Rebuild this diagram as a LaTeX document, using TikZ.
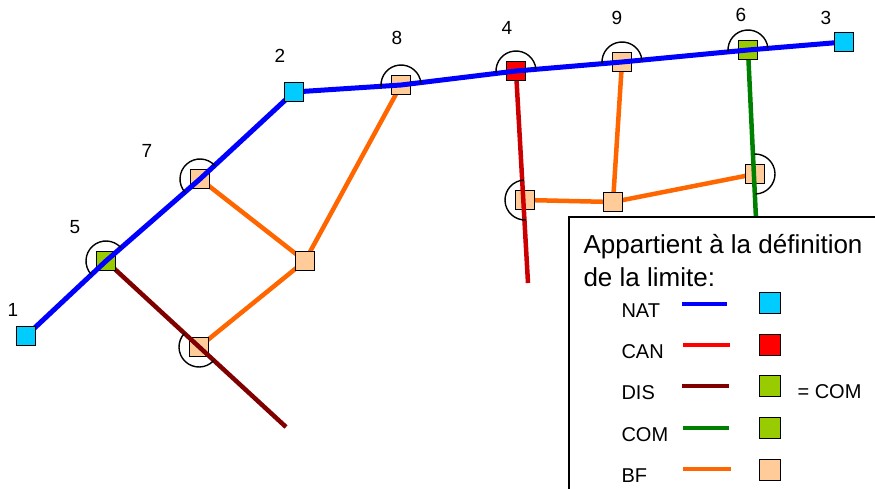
\documentclass[tikz,border=0pt]{standalone}
\usepackage{fontspec}
\setmainfont{Liberation Sans}
\usetikzlibrary{positioning}

\definecolor{natblue}{RGB}{0,0,255}
\definecolor{canred}{RGB}{204,0,0}
\definecolor{disred}{RGB}{128,0,0}
\definecolor{comgreen}{RGB}{0,128,0}
\definecolor{bforange}{RGB}{255,102,0}
\definecolor{natfill}{RGB}{0,204,255}
\definecolor{comfill}{RGB}{153,204,0}
\definecolor{bffill}{RGB}{255,204,153}

\begin{document}
\begin{tikzpicture}[x=1pt, y=-1pt,
  borne/.style={rectangle, draw=black, line width=1.2pt, minimum size=19pt, inner sep=0pt},
  bornenat/.style={borne, fill=natfill},
  bornecan/.style={borne, fill=red},
  bornecom/.style={borne, fill=comfill},
  bornebf/.style={borne, fill=bffill},
  limite/.style={line width=4.5pt},
  pont/.style={draw=black, line width=1.4pt},
  numero/.style={font=\fontsize{19}{22}\selectfont},
  legende/.style={font=\fontsize{20}{24}\selectfont, anchor=base west}]
\useasboundingbox (0,0) rectangle (875,489);

% positions
\coordinate (p1) at (26,336);
\coordinate (p2) at (294,92);
\coordinate (p3) at (844,42);
\coordinate (p4) at (516,71);
\coordinate (p5) at (106,261);
\coordinate (p6) at (748,50);
\coordinate (p7) at (200,179);
\coordinate (p8) at (401,85);
\coordinate (p9) at (622,62);
\coordinate (qa) at (305,261);
\coordinate (qb) at (199,347);
\coordinate (qc) at (525,200);
\coordinate (qd) at (613,202);
\coordinate (qe) at (755,174);
\coordinate (dis) at (286,427);
\coordinate (can) at (528,283);
\coordinate (com) at (757,240);

% BF
\draw[limite, bforange] (p7) -- (qa) -- (p8);
\draw[limite, bforange] (qa) -- (qb);
\draw[limite, bforange] (qc) -- (qd) -- (p9);
\draw[limite, bforange] (qd) -- (qe);

\node[bornebf] (nb) at (qb) {};
\node[bornebf] (nc) at (qc) {};
\node[bornebf] (ne) at (qe) {};

% DIS, CAN, COM
\draw[limite, disred] (p5) -- (dis);
\draw[limite, canred] (p4) -- (can);
\draw[limite, comgreen] (p6) -- (com);

\node[bornecom] (n5) at (p5) {};
\node[bornebf] (n7) at (p7) {};
\node[bornebf] (n8) at (p8) {};
\node[bornecan] (n4) at (p4) {};
\node[bornebf] (n9) at (p9) {};
\node[bornecom] (n6) at (p6) {};
\node[bornebf] (na) at (qa) {};
\node[bornebf] (nd) at (qd) {};

% NAT
\draw[limite, natblue, line width=5pt] (p1) -- (p5) -- (p7) -- (p2) -- (p8) -- (p4) -- (p9) -- (p6) -- (p3);

\node[bornenat] (n1) at (p1) {};
\node[bornenat] (n2) at (p2) {};
\node[bornenat] (n3) at (p3) {};

% ponts
\draw[pont] (p5) ++(-42:20) arc[start angle=-42, end angle=-222, radius=20];
\draw[pont] (p7) ++(-42:20) arc[start angle=-42, end angle=-222, radius=20];
\draw[pont] (p8) ++(-5:20) arc[start angle=-5, end angle=-185, radius=20];
\draw[pont] (p4) ++(-5:20) arc[start angle=-5, end angle=-185, radius=20];
\draw[pont] (p9) ++(-5:20) arc[start angle=-5, end angle=-185, radius=20];
\draw[pont] (p6) ++(-5:20) arc[start angle=-5, end angle=-185, radius=20];
\draw[pont] (qb) ++(43:20) arc[start angle=43, end angle=223, radius=20];
\draw[pont] (qc) ++(87:20) arc[start angle=87, end angle=267, radius=20];
\draw[pont] (qe) ++(88:20) arc[start angle=88, end angle=-92, radius=20];

\node[numero] (l1) at (13,310) {1};
\node[numero] (l2) at (280,56) {2};
\node[numero] (l3) at (826,18) {3};
\node[numero] (l4) at (507,28) {4};
\node[numero] (l5) at (75,227) {5};
\node[numero] (l6) at (741,15) {6};
\node[numero] (l7) at (147,151) {7};
\node[numero] (l8) at (397,38) {8};
\node[numero] (l9) at (617,18) {9};

% legende
\draw[fill=white, line width=1.3pt] (569,217) rectangle (885,500);
\node[font=\fontsize{26}{30}\selectfont, anchor=base west] (titre1) at (580,253) {Appartient à la définition};
\node[font=\fontsize{26}{30}\selectfont, anchor=base west] (titre2) at (580,286) {de la limite:};

\node[legende] (tnat) at (618,317) {NAT};
\node[legende] (tcan) at (618,358) {CAN};
\node[legende] (tdis) at (618,399) {DIS};
\node[legende] (tcom) at (618,441) {COM};
\node[legende] (tbf) at (618,482) {BF};

\draw[limite, natblue] (682,304) -- (727,304);
\draw[limite, red] (683,345) -- (730,345);
\draw[limite, disred] (682,386) -- (729,386);
\draw[limite, comgreen] (683,428) -- (729,428);
\draw[limite, bforange] (683,469) -- (731,469);

\node[bornenat, minimum size=21pt] (snat) at (770,303) {};
\node[bornecan, minimum size=21pt] (scan) at (770,345) {};
\node[bornecom, minimum size=21pt] (sdis) at (770,386) {};
\node[bornecom, minimum size=21pt] (scom) at (770,428) {};
\node[bornebf, minimum size=21pt] (sbf) at (770,470) {};
\node[legende] (egal) at (794,398) {= COM};
\end{tikzpicture}
\end{document}
